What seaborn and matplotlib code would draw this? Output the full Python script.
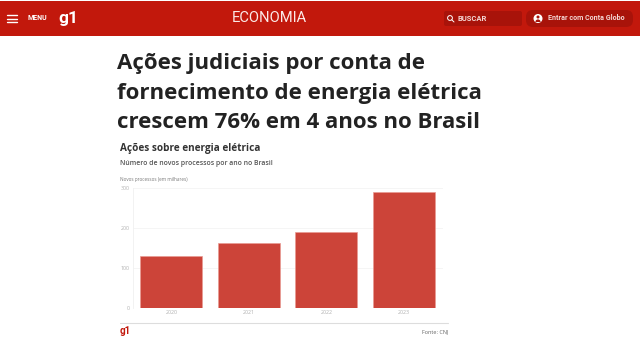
import matplotlib
matplotlib.use("Agg")
import matplotlib.pyplot as plt
from matplotlib.patches import Rectangle, FancyBboxPatch, Circle, Wedge
import pandas as pd
import seaborn as sns

anos = ["2020", "2021", "2022", "2023"]
processos = [130, 162, 189, 288]
y_ticks = [0, 100, 200, 300]
manchete = ["Ações judiciais por conta de",
            "fornecimento de energia elétrica",
            "crescem 76% em 4 anos no Brasil"]

sns.set_theme(style="white")
plt.rcParams["font.family"] = ["Open Sans", "DejaVu Sans"]

W, H = 640, 360
fig = plt.figure(figsize=(6.4, 3.6), dpi=100, facecolor="white")

# page layer in pixel coords
bg = fig.add_axes([0, 0, 1, 1])
bg.set_xlim(0, W)
bg.set_ylim(H, 0)
bg.axis("off")

# red header
bg.add_patch(Rectangle((0, 1), W, 35, color="#C2180C", lw=0))
for y in [15, 18.5, 22]:
    bg.plot([7, 17], [y, y], color="white", lw=1)
bg.text(28, 18.5, "MENU", color="white", fontsize=5, fontweight="bold", family="Roboto", va="center")
bg.text(58, 18, "g1", color="white", fontsize=12.5, fontweight="bold", family="Roboto", va="center")
bg.text(269, 18.5, "ECONOMIA", color="#FBE9E7", fontsize=10.6, family="Roboto", ha="center", va="center")

bg.add_patch(FancyBboxPatch((444, 11), 78, 15, boxstyle="round,pad=0,rounding_size=2", color="#A8130A", lw=0))
bg.add_patch(Circle((450, 18), 2.4, fill=False, ec="white", lw=0.7))
bg.plot([451.8, 454], [19.8, 22], color="white", lw=0.7)
bg.text(458, 18.5, "BUSCAR", color="#F3D6D3", fontsize=5.5, fontweight="bold", family="Roboto", va="center")

bg.add_patch(FancyBboxPatch((526, 10), 107, 17, boxstyle="round,pad=0,rounding_size=7", color="#A8130A", lw=0))
bg.add_patch(Circle((538, 18.5), 4.5, color="white", lw=0))
bg.add_patch(Circle((538, 17), 1.5, color="#A8130A", lw=0))
bg.add_patch(Wedge((538, 22), 2.6, 180, 360, color="#A8130A", lw=0))
bg.text(548, 18.5, "Entrar com Conta Globo", color="#F3D6D3", fontsize=5.1, fontweight="bold", family="Roboto", va="center")

# headline
for y, linha in zip([64, 93, 122], manchete):
    bg.text(117, y, linha, color="#222222", fontsize=16, fontweight="bold", va="center")

# chart titles
bg.text(120, 149, "Ações sobre energia elétrica", color="#333333", fontsize=7.2, fontweight="bold", va="center")
bg.text(120, 163.5, "Número de novos processos por ano no Brasil", color="#555555", fontsize=4.95,
        fontweight="semibold", va="center")
bg.text(120, 179.5, "Novos processos (em milhares)", color="#777777", fontsize=3.3, va="center")

# footer
bg.plot([120, 448], [323, 323], color="#DDDDDD", lw=0.8)
bg.text(120, 331, "g1", color="#C2180C", fontsize=7, fontweight="bold", family="Roboto", va="center")
bg.text(449, 332, "Fonte: CNJ", color="#666666", fontsize=4, ha="right", va="center")

# chart
ax = fig.add_axes([132.7 / W, 1 - 307.5 / H, (442.5 - 132.7) / W, (307.5 - 187.7) / H])
ax.patch.set_alpha(0)
df = pd.DataFrame({"ano": anos, "processos": processos})
sns.barplot(data=df, x="ano", y="processos", color="#CC4439", saturation=1, width=0.8,
            edgecolor="#E99A93", linewidth=0.5, ax=ax)
ax.set_xlim(-0.5, 3.5)
ax.set_ylim(0, 300)
ax.set_yticks(y_ticks)
ax.set_xlabel("")
ax.set_ylabel("")
ax.grid(axis="y", color="#F4F4F4", lw=0.6)
ax.set_axisbelow(True)
ax.tick_params(axis="both", length=0, labelsize=3.8, labelcolor="#B0B0B0", pad=2)
sns.despine(ax=ax, top=True, right=True, bottom=True, left=False)
ax.spines["left"].set_color("#F0F0F0")
ax.spines["left"].set_linewidth(0.6)

fig.savefig("out.png", dpi=100)
